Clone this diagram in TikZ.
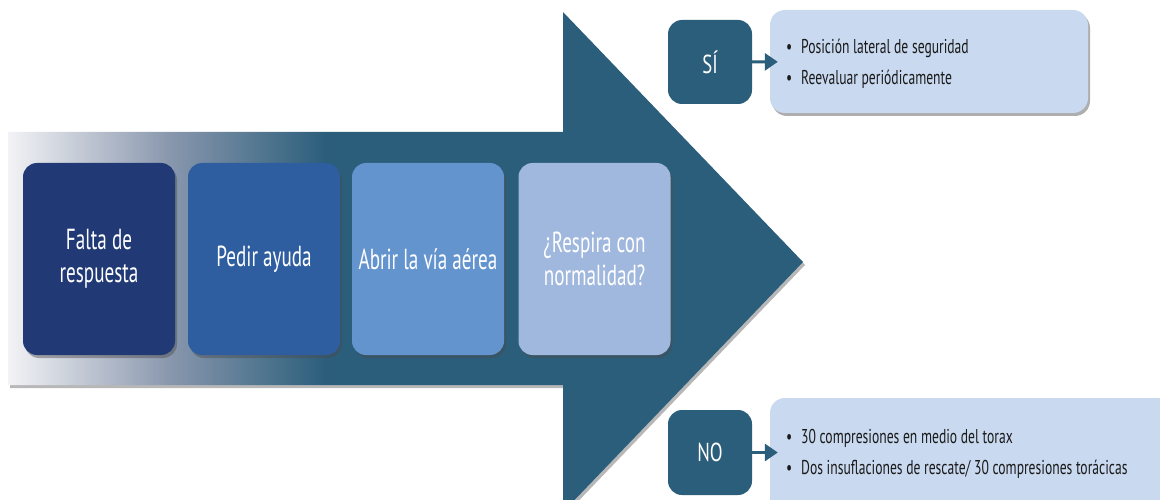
\documentclass[tikz,border=0pt]{standalone}
\usepackage{fontspec}
\setmainfont{PT Sans}
\newfontfamily\cond[FakeStretch=0.66]{PT Sans}
\newfontfamily\conda[FakeStretch=0.72]{PT Sans}
\newfontfamily\condb[FakeStretch=0.68]{PT Sans}
\usetikzlibrary{shadows,arrows.meta}
\definecolor{teal1}{HTML}{2B5E7B}
\definecolor{lgrey}{HTML}{F3F3F6}
\definecolor{midgrey}{HTML}{8A98AE}
\definecolor{boxa}{HTML}{213A76}
\definecolor{boxb}{HTML}{2E5E9F}
\definecolor{boxc}{HTML}{6394CE}
\definecolor{boxd}{HTML}{A1B8DE}
\definecolor{lightbox}{HTML}{C9D9F0}
\definecolor{darktext}{HTML}{1A1A1A}
\pgfdeclarehorizontalshading{shaftshade}{100bp}{color(0bp)=(lgrey); color(25bp)=(lgrey); color(35bp)=(midgrey); color(45bp)=(teal1); color(100bp)=(teal1)}
\tikzset{
  boxshadow/.style={drop shadow={shadow xshift=2pt, shadow yshift=-3pt, opacity=0.45, fill=black!70}},
  stepbox/.style={rounded corners=14pt, minimum width=152pt, minimum height=192pt, inner sep=0pt,
    text=white, align=center, font=\cond\fontsize{29}{33}\selectfont, boxshadow},
  answerbox/.style={rounded corners=14pt, fill=teal1, minimum width=84pt, minimum height=84pt, inner sep=0pt,
    text=white, font=\conda\fontsize{26}{28}\selectfont},
  infobox/.style={rounded corners=15pt, fill=lightbox, inner sep=0pt, boxshadow},
  infotext/.style={anchor=west, align=left, text=darktext, inner sep=0pt, font=\condb\fontsize{20}{31}\selectfont},
  conn/.style={teal1, line width=3pt, -{Triangle[length=13pt,width=17pt]}, shorten >=-8pt}
}
\newcommand{\bul}{\makebox[15pt][l]{\textbullet}}
\begin{document}
\begin{tikzpicture}[x=1pt,y=-1pt]
\useasboundingbox (0,0) rectangle (1160,500);
% big arrow
\path[shading=shaftshade, drop shadow={shadow xshift=2pt, shadow yshift=-3pt, opacity=0.4, fill=black!70}]
  (8,132) -- (563,132) -- (563,12) -- (803,262) -- (563,512) -- (563,385) -- (8,385) -- cycle;
% step boxes
\node[stepbox, fill=boxa] (s1) at (99,259) {Falta de\\respuesta};
\node[stepbox, fill=boxb] (s2) at (264,259) {Pedir ayuda};
\node[stepbox, fill=boxc] (s3) at (428,259) {Abrir la vía aérea};
\node[stepbox, fill=boxd] (s4) at (594.5,259) {¿Respira con\\normalidad?};
% answers
\node[answerbox] (si) at (710,62) {SÍ};
\node[answerbox, minimum height=85pt] (no) at (710,452.5) {NO};
\node[infobox, minimum width=318pt, minimum height=103pt] (lb1) at (929,61.5) {};
\node[infobox, minimum width=410pt, minimum height=122pt] (lb2) at (975,459) {};
\node[infotext] (t1) at (786,64) {\bul Posición lateral de seguridad\\\bul Reevaluar periódicamente};
\node[infotext] (t2) at (786,453.5) {\bul 30 compresiones en medio del torax\\\bul Dos insuflaciones de rescate/ 30 compresiones torácicas};
\draw[conn] (si) -- (lb1);
\draw[conn] (no) -- (no -| lb2.west);
\end{tikzpicture}
\end{document}
